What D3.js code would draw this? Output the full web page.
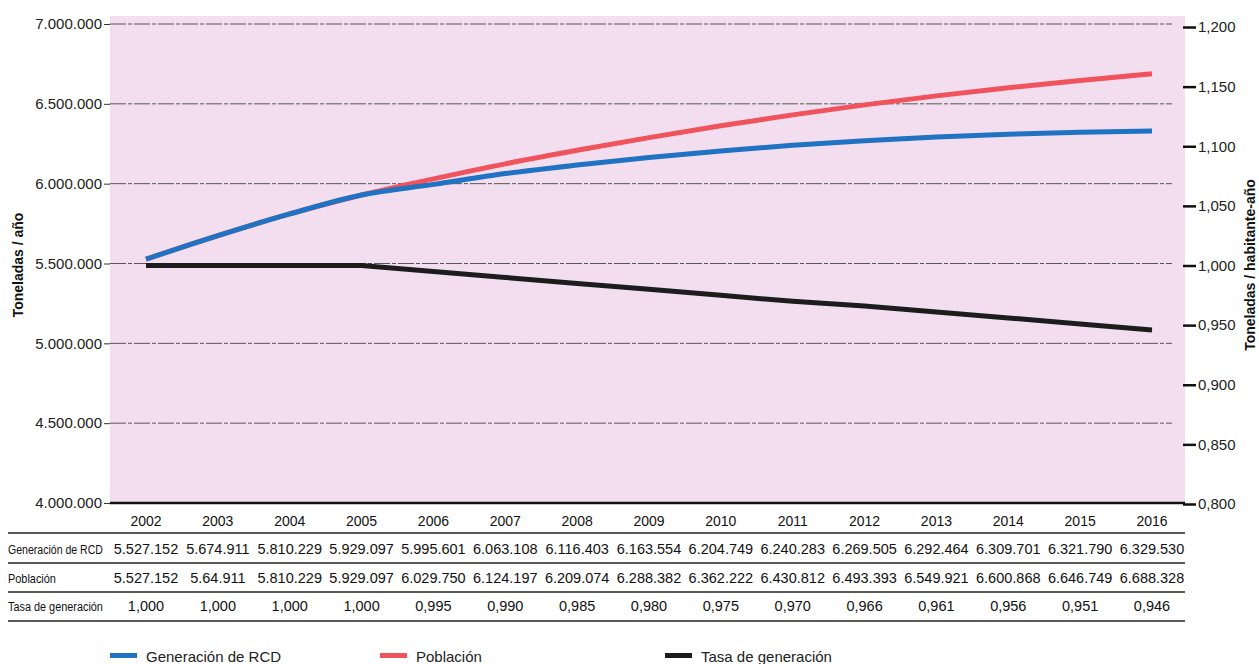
<!DOCTYPE html>
<html><head><meta charset="utf-8">
<script src="https://cdn.jsdelivr.net/npm/d3@7"></script>
<style>
html,body{margin:0;padding:0;background:#fff;}
svg{display:block;font-family:"Liberation Sans",Arial,Helvetica,sans-serif;}
</style></head>
<body><svg id="c" width="1259" height="664"></svg>
<script>
const years = [2002,2003,2004,2005,2006,2007,2008,2009,2010,2011,2012,2013,2014,2015,2016];
const generacion = [5527152,5674911,5810229,5929097,5995601,6063108,6116403,6163554,6204749,6240283,6269505,6292464,6309701,6321790,6329530];
const poblacion = [5527152,5674911,5810229,5929097,6029750,6124197,6209074,6288382,6362222,6430812,6493393,6549921,6600868,6646749,6688328];
const poblacionTexto = ["5.527.152","5.64.911","5.810.229","5.929.097","6.029.750","6.124.197","6.209.074","6.288.382","6.362.222","6.430.812","6.493.393","6.549.921","6.600.868","6.646.749","6.688.328"];
const tasa = [1.000,1.000,1.000,1.000,0.995,0.990,0.985,0.980,0.975,0.970,0.966,0.961,0.956,0.951,0.946];
const leftTicks = [4000000,4500000,5000000,5500000,6000000,6500000,7000000];
const rightTicks = [0.800,0.850,0.900,0.950,1.000,1.050,1.100,1.150,1.200];
const seriesNames = ["Generación de RCD","Población","Tasa de generación"];
const colors = ["#2073c2","#f0535c","#1c1c1c"];

const es = d3.formatLocale({decimal:",",thousands:".",grouping:[3],currency:["","€"]});
const fInt = es.format(",d"), fDec = es.format(".3f");

const svg = d3.select("#c");
const x = d3.scalePoint().domain(years).range([146,1152]);
const yL = d3.scaleLinear().domain([4000000,7000000]).range([503,24]);
const yR = d3.scaleLinear().domain([0.8,1.2]).range([504,27]);

// plot background
svg.append("rect").attr("x",110).attr("y",16).attr("width",1075).attr("height",487).attr("fill","#f3def0");

// gridlines
svg.append("g").selectAll("line").data(leftTicks.slice(1)).join("line")
  .attr("x1",110).attr("x2",1172).attr("y1",d=>yL(d)).attr("y2",d=>yL(d))
  .attr("stroke","#555").attr("stroke-width",1).attr("stroke-dasharray","16,2,4,2");

// left axis labels
const gl = svg.append("g").attr("transform","translate(110,0)")
  .call(d3.axisLeft(yL).tickValues(leftTicks).tickFormat(fInt).tickSize(6).tickPadding(2));
gl.select(".domain").remove();
gl.selectAll("text").attr("font-size",15).attr("fill","#222").attr("font-family","Liberation Sans, Arial");
gl.selectAll("line").attr("stroke","#333");

// right axis
const gr = svg.append("g").attr("transform","translate(1183,0)")
  .call(d3.axisRight(yR).tickValues(rightTicks).tickFormat(fDec).tickSize(13).tickPadding(2));
gr.select(".domain").remove();
gr.selectAll("line").attr("stroke","#111").attr("stroke-width",2.5);
gr.selectAll("text").attr("font-size",15).attr("fill","#222").attr("font-family","Liberation Sans, Arial");

// bottom axis line
svg.append("line").attr("x1",110).attr("x2",1185).attr("y1",503).attr("y2",503).attr("stroke","#111").attr("stroke-width",2.5);

// axis titles
svg.append("text").attr("transform","translate(23,265) rotate(-90)").attr("text-anchor","middle")
  .attr("font-size",14).attr("font-weight","bold").attr("fill","#111").text("Toneladas / año");
svg.append("text").attr("transform","translate(1255,265) rotate(-90)").attr("text-anchor","middle")
  .attr("font-size",14).attr("font-weight","bold").attr("fill","#111").text("Toneladas / habitante-año");

// lines
const lineL = d3.line().x((d,i)=>x(years[i])).y(d=>yL(d)).curve(d3.curveMonotoneX);
const lineR = d3.line().x((d,i)=>x(years[i])).y(d=>yR(d));
svg.append("path").datum(poblacion).attr("d",lineL).attr("fill","none").attr("stroke",colors[1]).attr("stroke-width",5);
svg.append("path").datum(generacion).attr("d",lineL).attr("fill","none").attr("stroke",colors[0]).attr("stroke-width",5);
svg.append("path").datum(tasa).attr("d",lineR).attr("fill","none").attr("stroke",colors[2]).attr("stroke-width",5);

// table
const tbl = svg.append("g").attr("font-size",14.5).attr("fill","#111");
tbl.selectAll("text.yr").data(years).join("text").attr("class","yr")
  .attr("x",d=>x(d)).attr("y",526).attr("text-anchor","middle").attr("font-size",14).text(d=>d);
[533,563,592,621].forEach(yy=>{
  tbl.append("line").attr("x1",8).attr("x2",1185).attr("y1",yy).attr("y2",yy).attr("stroke","#222").attr("stroke-width",1.6);
});
const rows = [
  {label:"Generación de RCD", y:554, vals:generacion.map(fInt), w:95},
  {label:"Población", y:583, vals:poblacionTexto, w:48},
  {label:"Tasa de generación", y:611, vals:tasa.map(fDec), w:95}
];
rows.forEach(r=>{
  const t = tbl.append("text").attr("x",0).attr("y",0).attr("font-size",13.5).text(r.label);
  const len = t.node().getComputedTextLength();
  t.attr("transform",`translate(8,${r.y}) scale(${r.w/len},1)`);
  tbl.append("g").selectAll("text").data(r.vals).join("text")
    .attr("x",(d,i)=>x(years[i])).attr("y",r.y).attr("text-anchor","middle").text(d=>d);
});

// legend
const legX = [110,380,665];
const lg = svg.append("g");
seriesNames.forEach((n,i)=>{
  lg.append("rect").attr("x",legX[i]).attr("y",653).attr("width",27).attr("height",5).attr("fill",colors[i]);
  lg.append("text").attr("x",legX[i]+36).attr("y",662).attr("font-size",15).attr("fill","#222").text(n);
});
</script></body></html>
